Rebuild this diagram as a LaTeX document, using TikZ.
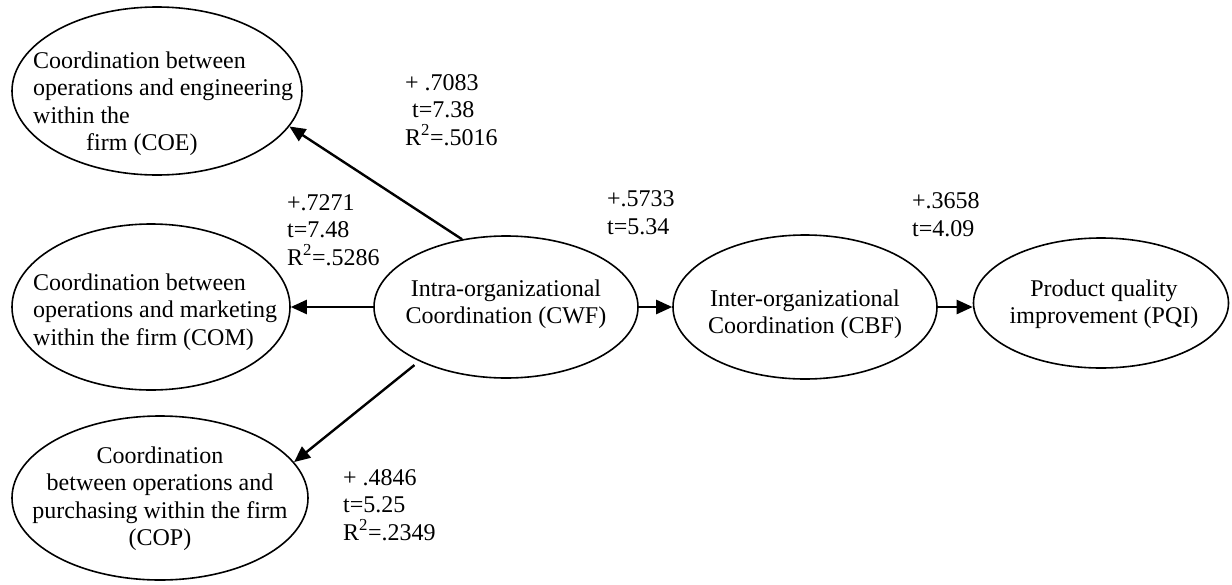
\documentclass[tikz,border=0pt]{standalone}
\usepackage{fontspec}
\setmainfont{Liberation Serif}
\usetikzlibrary{arrows.meta,shapes.geometric}
\newcommand{\fsz}{\fontsize{24}{27.5}\selectfont}
\begin{document}
\begin{tikzpicture}[x=1pt,y=-1pt,
  oval/.style={draw, ellipse, line width=1.6pt, inner sep=0pt},
  txt/.style={font=\fsz, inner sep=0pt, anchor=base west, align=left},
  ctxt/.style={font=\fsz, inner sep=0pt, anchor=base, align=center},
  conn/.style={line width=2.4pt, -{Triangle[length=16pt,width=14pt]}}]
\useasboundingbox (0,0) rectangle (1232,584);
% ellipses
\node[oval, minimum width=290pt, minimum height=168pt] (coe) at (157,91) {};
\node[oval, minimum width=278pt, minimum height=166pt] (com) at (151,307) {};
\node[oval, minimum width=296pt, minimum height=164pt] (cop) at (160,498) {};
\node[oval, minimum width=264pt, minimum height=142pt] (cwf) at (506,307) {};
\node[oval, minimum width=264pt, minimum height=144pt] (cbf) at (805,307) {};
\node[oval, minimum width=255pt, minimum height=130pt] (pqi) at (1101,303) {};
% texts (anchor = baseline of the last line)
\node[txt] (coet) at (33,150.5) {Coordination between\\operations and engineering\\within the\\\hspace*{53pt}firm (COE)};
\node[txt] (comt) at (33,345) {Coordination between\\operations and marketing\\within the firm (COM)};
\node[ctxt] (copt) at (160,545.5) {Coordination\\between operations and\\purchasing within the firm\\(COP)};
\node[ctxt] (cwft) at (506,323.5) {Intra-organizational\\Coordination (CWF)};
\node[ctxt] (cbft) at (805,333.5) {Inter-organizational\\Coordination (CBF)};
\node[ctxt] (pqit) at (1104,323.5) {Product quality\\improvement (PQI)};
% connectors
\draw[conn] (cwf.123) -- (coe.-15);
\draw[conn] (cwf.west) -- (com.east);
\draw[conn, shorten <=6pt] (cwf.212) -- (cop.15);
\draw[conn] (cwf.east) -- (cbf.west);
\draw[conn] (cbf.east) -- (pqi.west |- cbf.east);
% coefficient labels
\node[txt] (l1) at (405,145) {+ .7083\\\hspace*{7pt}t=7.38\\R\textsuperscript{2}=.5016};
\node[txt] (l2) at (287,265) {+.7271\\t=7.48\\R\textsuperscript{2}=.5286};
\node[txt] (l3) at (607,234) {+.5733\\t=5.34};
\node[txt] (l4) at (912,236) {+.3658\\t=4.09};
\node[txt] (l5) at (343,540) {+ .4846\\t=5.25\\R\textsuperscript{2}=.2349};
\end{tikzpicture}
\end{document}
